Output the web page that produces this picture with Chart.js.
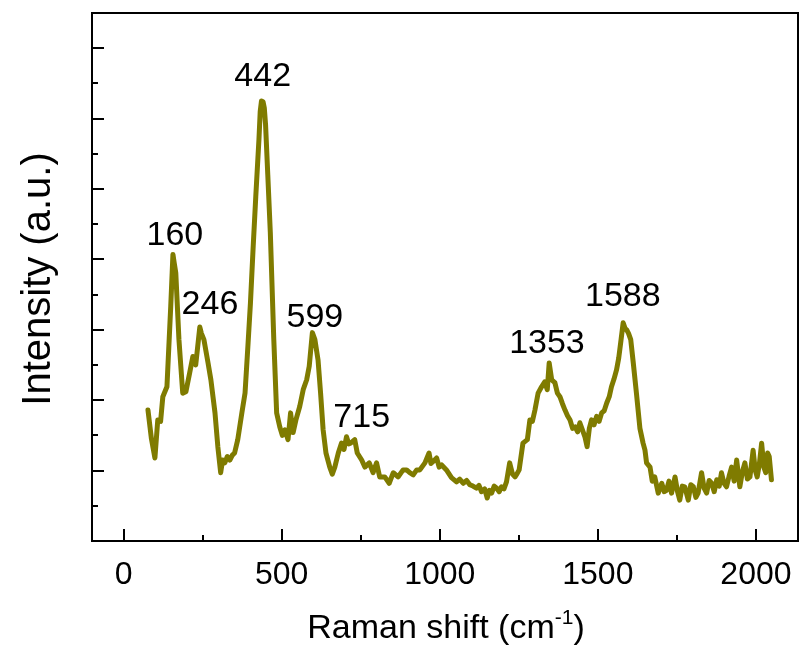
<!DOCTYPE html>
<html>
<head>
<meta charset="utf-8">
<script src="https://cdn.jsdelivr.net/npm/chart.js@4.4.1/dist/chart.umd.min.js"></script>
<style>
  html, body { margin: 0; padding: 0; background: #fff; }
  #wrap { width: 800px; height: 653px; }
</style>
</head>
<body>
<div id="wrap"><canvas id="raman"></canvas></div>
<script>
// Espectro Raman
const ramanShift = [77, 88, 99, 108, 117, 124, 137, 149, 156, 160, 165, 175, 187, 197, 209, 219, 228, 241, 246, 254,
  267, 276, 289, 298, 307, 313, 320, 328, 336, 344, 351, 361, 374, 384, 393, 401, 410, 418, 428, 432, 436,
  441, 445, 449, 456, 464, 475, 484, 494, 502, 510, 520, 528, 536, 545, 557, 568, 579, 587, 597, 605, 615,
  623, 631, 640, 652, 660, 668, 679, 689, 697, 705, 712, 718, 731, 739, 753, 763, 777, 789, 800, 810,
  826, 840, 853, 868, 884, 895, 905, 916, 927, 937, 953, 966, 972, 979, 990, 998, 1006, 1021, 1037, 1053,
  1063, 1074, 1085, 1095, 1105, 1116, 1124, 1132, 1142, 1150, 1157, 1164, 1172, 1180, 1188, 1195, 1203, 1211, 1221, 1230,
  1238, 1245, 1251, 1263, 1277, 1285, 1293, 1301, 1311, 1322, 1332, 1340, 1346, 1354, 1364, 1372, 1380, 1388, 1396, 1404,
  1412, 1420, 1428, 1436, 1443, 1451, 1459, 1466, 1473, 1480, 1488, 1496, 1504, 1512, 1520, 1528, 1536, 1543, 1551, 1559,
  1566, 1572, 1580, 1586, 1591, 1597, 1604, 1612, 1622, 1633, 1643, 1649, 1654, 1665, 1672, 1680, 1691, 1702, 1710, 1717,
  1725, 1733, 1744, 1752, 1759, 1767, 1775, 1786, 1794, 1802, 1810, 1817, 1828, 1836, 1844, 1852, 1860, 1868, 1876, 1884,
  1891, 1899, 1907, 1915, 1923, 1931, 1939, 1949, 1957, 1965, 1973, 1981, 1991, 1998, 2004, 2011, 2018, 2025, 2031, 2037,
  2042, 2049];
const intensity = [1.86, 1.45, 1.18, 1.72, 1.70, 2.05, 2.19, 3.33, 4.07, 3.95, 3.81, 2.86, 2.10, 2.12, 2.39, 2.62, 2.50, 3.04, 2.95, 2.86,
  2.53, 2.29, 1.82, 1.34, 0.97, 1.15, 1.11, 1.20, 1.15, 1.22, 1.25, 1.44, 1.82, 2.10, 2.76, 3.37, 4.20, 4.89, 5.70, 6.10, 6.25,
  6.24, 6.15, 5.91, 5.20, 4.38, 2.86, 1.82, 1.62, 1.50, 1.58, 1.44, 1.82, 1.54, 1.72, 1.91, 2.15, 2.29, 2.48, 2.96, 2.86, 2.57,
  2.10, 1.58, 1.25, 1.05, 0.95, 1.05, 1.25, 1.39, 1.30, 1.48, 1.38, 1.39, 1.44, 1.25, 1.15, 1.05, 1.11, 0.97, 1.11, 0.91,
  0.91, 0.82, 0.97, 0.91, 1.01, 1.01, 0.97, 0.94, 1.01, 1.01, 1.11, 1.25, 1.10, 1.13, 1.18, 1.05, 1.08, 1.01, 0.90, 0.84,
  0.88, 0.82, 0.86, 0.80, 0.78, 0.75, 0.79, 0.70, 0.74, 0.61, 0.72, 0.68, 0.78, 0.75, 0.70, 0.77, 0.74, 0.84, 1.11, 0.95,
  0.91, 0.96, 1.01, 1.39, 1.44, 1.72, 1.70, 1.86, 2.10, 2.19, 2.26, 2.15, 2.53, 2.29, 2.25, 2.10, 2.05, 1.95, 1.86, 1.78,
  1.72, 1.60, 1.62, 1.55, 1.68, 1.58, 1.48, 1.34, 1.60, 1.72, 1.65, 1.77, 1.70, 1.82, 1.85, 1.96, 2.05, 2.19, 2.30, 2.43,
  2.60, 2.81, 3.10, 3.02, 3.00, 2.95, 2.86, 2.53, 2.10, 1.60, 1.39, 1.29, 1.11, 1.05, 0.85, 0.91, 0.68, 0.82, 0.70, 0.72,
  0.85, 0.68, 0.91, 0.70, 0.58, 0.78, 0.77, 0.58, 0.80, 0.77, 0.62, 0.68, 0.97, 0.75, 0.68, 0.86, 0.82, 0.70, 0.87, 0.78,
  0.97, 0.82, 0.77, 0.92, 1.05, 0.85, 1.15, 0.77, 0.98, 1.11, 0.88, 0.91, 1.29, 1.00, 0.91, 1.10, 1.39, 1.05, 0.97, 1.25,
  1.20, 0.87];

// Picos marcados
const peakLabels = ['160', '246', '442', '599', '715', '1353', '1588'];

// Ticks del eje x
const xTickValues = [0, 500, 1000, 1500, 2000];
const xMinorValues = [250, 750, 1250, 1750];

const lineColor = '#7f7b00';
const fontFamily = '"Liberation Sans", Arial, sans-serif';

// Centro de cada etiqueta (en unidades de los ejes)
const labelAnchors = [[162, 4.38], [273, 3.39], [440, 6.63], [605, 3.21], [753, 1.79], [1339, 2.84], [1579, 3.51]];

const framePlugin = {
  id: 'frame',
  afterDraw(chart) {
    const { ctx, chartArea: a, scales: { x, y } } = chart;
    ctx.save();
    ctx.strokeStyle = '#000';
    ctx.lineWidth = 2;
    ctx.strokeRect(a.left, a.top, a.right - a.left, a.bottom - a.top);

    // ticks hacia adentro
    ctx.beginPath();
    xTickValues.forEach(v => {
      const px = Math.round(x.getPixelForValue(v));
      ctx.moveTo(px, a.bottom); ctx.lineTo(px, a.bottom - 12);
    });
    xMinorValues.forEach(v => {
      const px = Math.round(x.getPixelForValue(v));
      ctx.moveTo(px, a.bottom); ctx.lineTo(px, a.bottom - 6);
    });
    for (let v = 0.5; v < 7.5; v += 0.5) {
      const py = Math.round(y.getPixelForValue(v));
      const len = (v % 1 === 0) ? 12 : 6;
      ctx.moveTo(a.left, py); ctx.lineTo(a.left + len, py);
    }
    ctx.stroke();

    ctx.fillStyle = '#000';
    ctx.textAlign = 'center';
    ctx.textBaseline = 'alphabetic';

    // números del eje x
    ctx.font = '32px ' + fontFamily;
    xTickValues.forEach(v => {
      ctx.fillText(String(v), x.getPixelForValue(v), 584);
    });

    // etiquetas de los picos
    ctx.font = '34px ' + fontFamily;
    peakLabels.forEach((t, i) => {
      ctx.fillText(t, x.getPixelForValue(labelAnchors[i][0]), y.getPixelForValue(labelAnchors[i][1]) + 12);
    });

    // título eje y
    ctx.save();
    ctx.translate(50, (a.top + a.bottom) / 2 + 2);
    ctx.rotate(-Math.PI / 2);
    ctx.font = '40px ' + fontFamily;
    ctx.fillText('Intensity (a.u.)', 0, 0);
    ctx.restore();

    // título eje x con superíndice
    const base = 638;
    const p1 = 'Raman shift (cm', sup = '-1', p2 = ')';
    ctx.font = '34px ' + fontFamily;
    const w1 = ctx.measureText(p1).width, w3 = ctx.measureText(p2).width;
    ctx.font = '21px ' + fontFamily;
    const w2 = ctx.measureText(sup).width;
    const total = w1 + w2 + w3;
    const sx = 446 - total / 2;
    ctx.textAlign = 'left';
    ctx.font = '34px ' + fontFamily;
    ctx.fillText(p1, sx, base);
    ctx.font = '21px ' + fontFamily;
    ctx.fillText(sup, sx + w1, base - 14);
    ctx.font = '34px ' + fontFamily;
    ctx.fillText(p2, sx + w1 + w2, base);
    ctx.restore();
  }
};

function setupChart() {
  const ctx = document.getElementById('raman').getContext('2d');
  new Chart(ctx, {
    type: 'line',
    data: {
      datasets: [{
        data: ramanShift.map((v, i) => ({ x: v, y: intensity[i] })),
        borderColor: lineColor,
        borderWidth: 5,
        pointRadius: 0,
        tension: 0,
        borderJoinStyle: 'round',
        borderCapStyle: 'round'
      }]
    },
    options: {
      responsive: true,
      maintainAspectRatio: false,
      animation: false,
      layout: { padding: { left: 0, top: 13, right: 2, bottom: 0 } },
      plugins: { legend: { display: false }, tooltip: { enabled: false } },
      scales: {
        x: {
          type: 'linear',
          min: -100,
          max: 2133,
          afterBuildTicks: s => { s.ticks = xTickValues.map(v => ({ value: v })); },
          afterFit: s => { s.height = 112; },
          grid: { display: false },
          border: { display: false },
          ticks: { display: false }
        },
        y: {
          min: 0,
          max: 7.5,
          afterFit: s => { s.width = 92; },
          grid: { display: false },
          border: { display: false },
          ticks: { display: false }
        }
      }
    },
    plugins: [framePlugin]
  });
}

window.addEventListener('DOMContentLoaded', setupChart);
</script>
</body>
</html>
